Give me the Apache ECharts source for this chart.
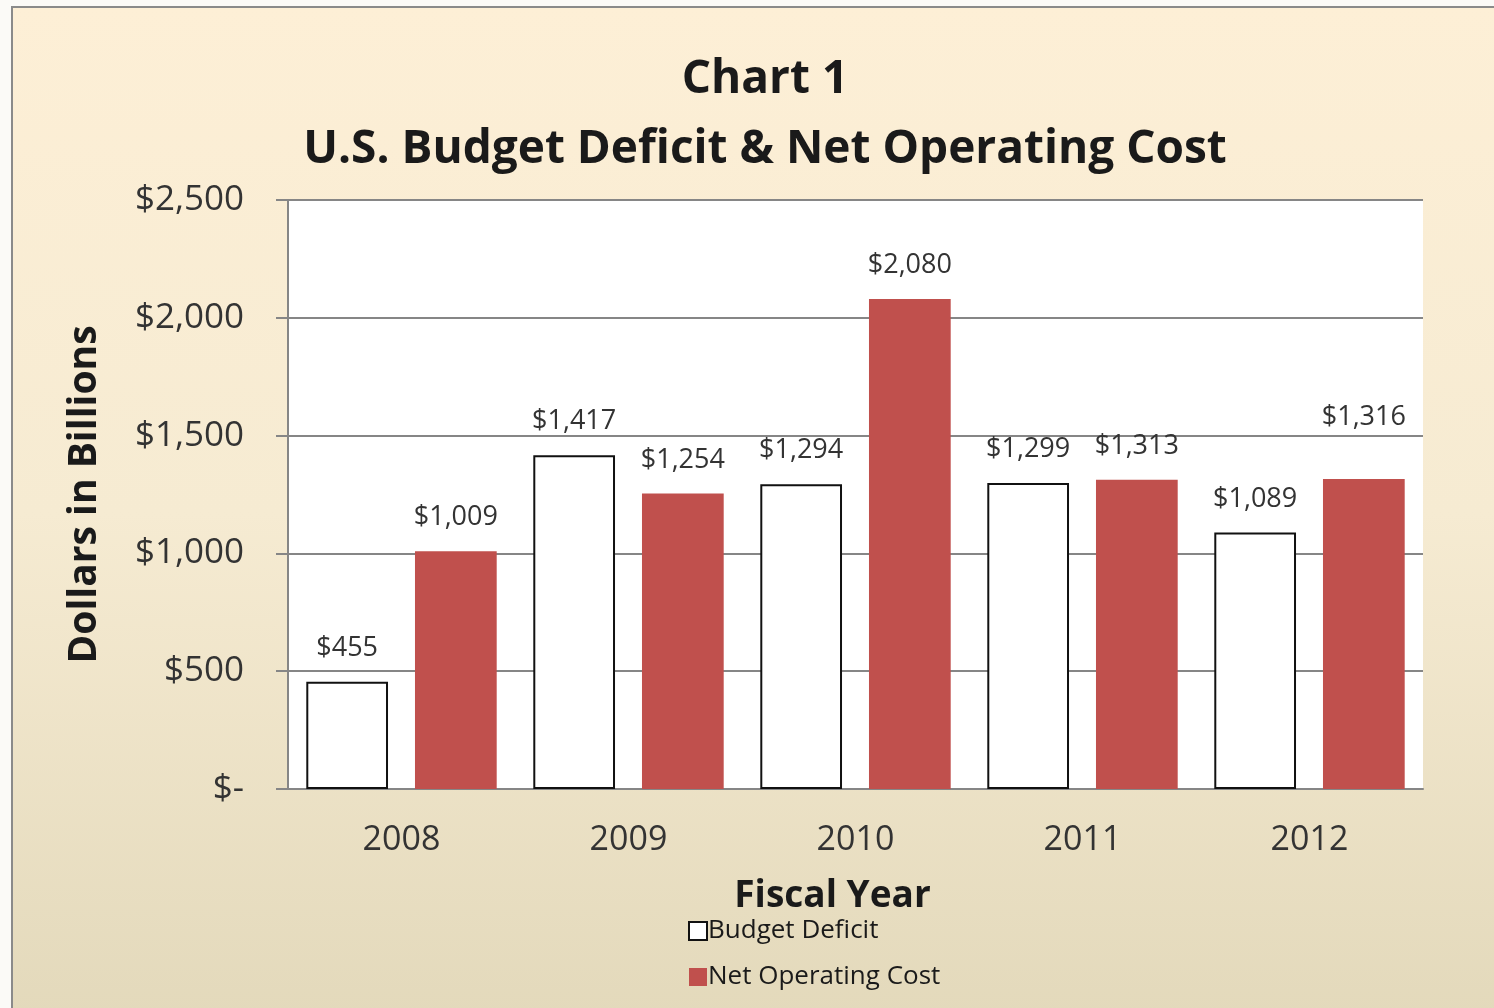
<!DOCTYPE html>
<html>
<head>
<meta charset="utf-8">
<script src="https://cdn.jsdelivr.net/npm/echarts@6/dist/echarts.min.js"></script>
<style>
html,body{margin:0;padding:0;background:#fbfaf7;}
#chart{width:1494px;height:1008px;}
</style>
</head>
<body>
<div id="chart"></div>
<script>
const categories = ['2008', '2009', '2010', '2011', '2012'];
const budgetDeficit = [455, 1417, 1294, 1299, 1089];
const netOperatingCost = [1009, 1254, 2080, 1313, 1316];
const yTicks = [0, 500, 1000, 1500, 2000, 2500];

const FONT = 'Open Sans';
const fmt = v => v === 0 ? '$-' : '$' + v.toLocaleString('en-US');

const chart = echarts.init(document.getElementById('chart'));
chart.setOption({
  backgroundColor: 'transparent',
  graphic: [{
    type: 'rect', z: -10, silent: true,
    shape: { x: 12, y: 7, width: 1490, height: 1010 },
    style: {
      fill: new echarts.graphic.LinearGradient(0, 0, 0, 1, [
        { offset: 0, color: '#fdefd6' },
        { offset: 0.5, color: '#f6ebd2' },
        { offset: 1, color: '#e3d9bb' }
      ]),
      stroke: '#8a8a8a', lineWidth: 2
    }
  }],
  title: [{
    text: 'Chart 1',
    left: 760, textAlign: 'center', top: 52,
    textStyle: { fontFamily: FONT, fontSize: 46, fontWeight: 'bold', color: '#1a1a1a' }
  }, {
    text: 'U.S. Budget Deficit & Net Operating Cost',
    left: 760, textAlign: 'center', top: 122,
    textStyle: { fontFamily: FONT, fontSize: 46, fontWeight: 'bold', color: '#1a1a1a' }
  }],
  legend: {
    orient: 'vertical',
    left: 683, top: 913,
    itemWidth: 18, itemHeight: 18, itemGap: 20,
    icon: 'rect',
    textStyle: { fontFamily: FONT, fontSize: 26, color: '#1a1a1a', padding: [0, 0, 0, -4] },
    data: ['Budget Deficit', 'Net Operating Cost']
  },
  grid: {
    left: 288, right: 71, top: 200, bottom: 219,
    show: true, backgroundColor: '#ffffff', borderWidth: 0
  },
  xAxis: {
    type: 'category',
    data: categories,
    name: 'Fiscal Year',
    nameLocation: 'middle',
    nameGap: 89,
    nameTextStyle: { fontFamily: FONT, fontSize: 37, fontWeight: 'bold', color: '#1a1a1a', padding: [0, 46, 0, 0] },
    axisLine: { lineStyle: { color: '#868686', width: 2 } },
    axisTick: { show: false },
    axisLabel: { fontFamily: FONT, fontSize: 34, color: '#333', margin: 34 }
  },
  yAxis: {
    type: 'value',
    min: 0, max: 2500, interval: 500,
    name: 'Dollars in Billions',
    nameLocation: 'middle',
    nameRotate: 90,
    nameGap: 184,
    nameTextStyle: { fontFamily: FONT, fontSize: 39, fontWeight: 'bold', color: '#1a1a1a' },
    axisLine: { show: true, lineStyle: { color: '#868686', width: 2 } },
    axisTick: { show: true, length: 12, lineStyle: { color: '#868686', width: 2 } },
    splitLine: { lineStyle: { color: '#868686', width: 2 } },
    axisLabel: {
      fontFamily: FONT, fontSize: 35, color: '#333', margin: 44, padding: [6, 0, 0, 0],
      formatter: v => yTicks.includes(v) ? fmt(v) : ''
    }
  },
  series: [{
    name: 'Budget Deficit',
    type: 'bar',
    data: budgetDeficit,
    barWidth: '36%',
    barGap: '33%',
    itemStyle: { color: '#ffffff', borderColor: '#111111', borderWidth: 2 },
    label: {
      show: true, position: 'top', distance: 20,
      fontFamily: FONT, fontSize: 27, color: '#333',
      formatter: p => fmt(p.value)
    }
  }, {
    name: 'Net Operating Cost',
    type: 'bar',
    data: netOperatingCost.map((v, i) => i === 4
      ? { value: v, label: { distance: 48 } }
      : v),
    barWidth: '36%',
    itemStyle: { color: '#c0504d' },
    label: {
      show: true, position: 'top', distance: 20,
      fontFamily: FONT, fontSize: 27, color: '#333',
      formatter: p => fmt(p.value)
    }
  }]
});
</script>
</body>
</html>
